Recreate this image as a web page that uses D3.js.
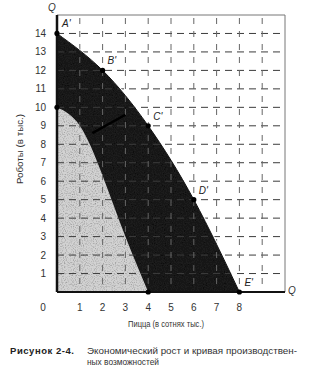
<!DOCTYPE html>
<html>
<head>
<meta charset="utf-8">
<script src="https://cdn.jsdelivr.net/npm/d3@7"></script>
<style>
  html, body { margin: 0; padding: 0; background: #fff; }
  svg { display: block; font-family: "Liberation Sans", Arial, sans-serif; }
</style>
</head>
<body>
<div id="chart"></div>
<script>
// old frontier (light) and new frontier (dark), pizza in hundreds of thousands, robots in thousands
var pizzaOld = [0, 1, 2, 3, 4];
var robotsOld = [10, 9, 6.3, 3, 0];
var pizzaNew = [0, 2, 4, 6, 8];
var robotsNew = [14, 12, 9, 5, 0];
var newLabels = ["A'", "B'", "C'", "D'", "E'"];

var xTicks = [1, 2, 3, 4, 5, 6, 7, 8];
var yTicks = [1, 2, 3, 4, 5, 6, 7, 8, 9, 10, 11, 12, 13, 14];
var xGrid = [1, 2, 3, 4, 5, 6, 7, 8, 9];
var yGrid = [1, 2, 3, 4, 5, 6, 7, 8, 9, 10, 11, 12, 13, 14];

var W = 330, H = 375;

var x = d3.scaleLinear().domain([0, 10]).range([57, 285]);
var y = d3.scaleLinear().domain([0, 15]).range([292, 15]);

var svg = d3.select("#chart").append("svg")
    .attr("width", W)
    .attr("height", H);

// speckle texture like a printed halftone
var defs = svg.append("defs");
var f = defs.append("filter").attr("id", "grain")
    .attr("x", 0).attr("y", 0).attr("width", 1).attr("height", 1);
f.append("feTurbulence").attr("type", "fractalNoise")
    .attr("baseFrequency", 0.9).attr("numOctaves", 1).attr("seed", 3).attr("result", "noise");
f.append("feColorMatrix").attr("in", "noise").attr("type", "matrix")
    .attr("values", "0 0 0 0 0  0 0 0 0 0  0 0 0 0 0  0 0 0 -1.4 0.75").attr("result", "dots");
f.append("feComposite").attr("in", "dots").attr("in2", "SourceGraphic").attr("operator", "in").attr("result", "spk");
f.append("feMerge").selectAll("feMergeNode")
    .data(["SourceGraphic", "spk"]).enter().append("feMergeNode").attr("in", function(d) { return d; });

function pts(xs, ys) {
  return xs.map(function(v, i) { return [v, ys[i]]; });
}

var area = d3.area()
    .curve(d3.curveNatural)
    .x(function(d) { return x(d[0]); })
    .y0(y(0))
    .y1(function(d) { return y(d[1]); });

var line = d3.line()
    .curve(d3.curveNatural)
    .x(function(d) { return x(d[0]); })
    .y(function(d) { return y(d[1]); });

var newPts = pts(pizzaNew, robotsNew);
var oldPts = pts(pizzaOld, robotsOld);

// dark new frontier region
svg.append("path")
    .datum(newPts)
    .attr("d", area)
    .attr("fill", "#1e1e1e")
    .attr("filter", "url(#grain)");

// light old frontier region
svg.append("path")
    .datum(oldPts)
    .attr("d", area)
    .attr("fill", "#d2d2d2")
    .attr("filter", "url(#grain)");

// grid
svg.append("g").selectAll("line")
    .data(yGrid).enter().append("line")
    .attr("x1", x(0)).attr("x2", x(10))
    .attr("y1", function(d) { return y(d); })
    .attr("y2", function(d) { return y(d); })
    .attr("stroke", "#3c3c3c")
    .attr("stroke-width", 1)
    .attr("stroke-dasharray", "7,5");

svg.append("g").selectAll("line")
    .data(xGrid).enter().append("line")
    .attr("x1", function(d) { return x(d); })
    .attr("x2", function(d) { return x(d); })
    .attr("y1", y(15)).attr("y2", y(0))
    .attr("stroke", "#666")
    .attr("stroke-width", 1)
    .attr("stroke-dasharray", "6,7")
    .attr("stroke-dashoffset", -3);

// frame top and right
svg.append("path")
    .attr("d", "M" + x(0) + "," + y(15) + "H" + x(10) + "V" + y(0))
    .attr("fill", "none")
    .attr("stroke", "#777")
    .attr("stroke-width", 1);

// edge of the new frontier
svg.append("path")
    .datum(newPts)
    .attr("d", line)
    .attr("fill", "none")
    .attr("stroke", "#fff")
    .attr("stroke-width", 1.2)
    .attr("transform", "translate(1.2,0)");
svg.append("path")
    .datum(newPts)
    .attr("d", line)
    .attr("fill", "none")
    .attr("stroke", "#111")
    .attr("stroke-width", 1);

// faint growth segment inside the dark area
svg.append("line")
    .attr("x1", x(1.55)).attr("y1", y(8.6))
    .attr("x2", x(3.0)).attr("y2", y(9.6))
    .attr("stroke", "#000")
    .attr("stroke-width", 2.5);

// axes
svg.append("line")
    .attr("x1", x(0)).attr("x2", x(0))
    .attr("y1", y(15)).attr("y2", y(0))
    .attr("stroke", "#111").attr("stroke-width", 2.5);
svg.append("line")
    .attr("x1", x(0)).attr("x2", x(10))
    .attr("y1", y(0)).attr("y2", y(0))
    .attr("stroke", "#111").attr("stroke-width", 2);

// points
svg.append("g").selectAll("circle")
    .data(newPts.concat([oldPts[0], oldPts[oldPts.length - 1]]))
    .enter().append("circle")
    .attr("cx", function(d) { return x(d[0]); })
    .attr("cy", function(d) { return y(d[1]); })
    .attr("r", 2.6)
    .attr("fill", "#000");

svg.append("g").selectAll("text")
    .data(newPts).enter().append("text")
    .attr("x", function(d) { return x(d[0]) + 5; })
    .attr("y", function(d) { return y(d[1]) - 6; })
    .attr("font-size", 10)
    .attr("font-style", "italic")
    .attr("fill", "#222")
    .text(function(d, i) { return newLabels[i]; });

// tick labels
svg.append("g").selectAll("text")
    .data(yTicks).enter().append("text")
    .attr("x", 46)
    .attr("y", function(d) { return y(d) + 3.5; })
    .attr("text-anchor", "end")
    .attr("font-size", 10)
    .attr("fill", "#333")
    .text(function(d) { return d; });

svg.append("g").selectAll("text")
    .data(xTicks).enter().append("text")
    .attr("x", function(d) { return x(d); })
    .attr("y", 311)
    .attr("text-anchor", "middle")
    .attr("font-size", 10)
    .attr("fill", "#333")
    .text(function(d) { return d; });

svg.append("text")
    .attr("x", 43).attr("y", 311)
    .attr("text-anchor", "middle")
    .attr("font-size", 10)
    .attr("fill", "#333")
    .text("0");

// axis letters
svg.append("text")
    .attr("x", 52).attr("y", 11)
    .attr("text-anchor", "middle")
    .attr("font-size", 10)
    .attr("font-style", "italic")
    .attr("fill", "#333")
    .text("Q");
svg.append("text")
    .attr("x", 292).attr("y", 294)
    .attr("text-anchor", "middle")
    .attr("font-size", 10)
    .attr("font-style", "italic")
    .attr("fill", "#333")
    .text("Q");

// axis titles
svg.append("text")
    .attr("transform", "translate(23,149) rotate(-90)")
    .attr("text-anchor", "middle")
    .attr("font-size", 8.5)
    .attr("fill", "#333")
    .attr("textLength", 70)
    .attr("lengthAdjust", "spacingAndGlyphs")
    .text("Роботы (в тыс.)");

svg.append("text")
    .attr("x", 166).attr("y", 327)
    .attr("text-anchor", "middle")
    .attr("font-size", 8.5)
    .attr("fill", "#333")
    .attr("textLength", 76)
    .attr("lengthAdjust", "spacingAndGlyphs")
    .text("Пицца (в сотнях тыс.)");

// caption
svg.append("text")
    .attr("x", 10).attr("y", 354)
    .attr("font-size", 9.5)
    .attr("font-weight", "bold")
    .attr("fill", "#222")
    .attr("textLength", 64)
    .attr("lengthAdjust", "spacing")
    .text("Рисунок 2-4.");
svg.append("text")
    .attr("x", 87).attr("y", 354)
    .attr("font-size", 9)
    .attr("fill", "#333")
    .attr("textLength", 210)
    .attr("lengthAdjust", "spacingAndGlyphs")
    .text("Экономический рост и кривая производствен-");
svg.append("text")
    .attr("x", 87).attr("y", 365)
    .attr("font-size", 9)
    .attr("fill", "#333")
    .attr("textLength", 72)
    .attr("lengthAdjust", "spacingAndGlyphs")
    .text("ных возможностей");
</script>
</body>
</html>
